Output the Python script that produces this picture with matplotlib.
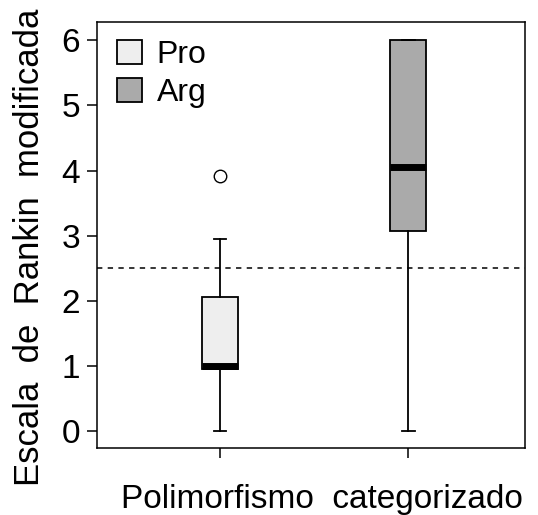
import matplotlib.pyplot as plt
from matplotlib.patches import Patch

plt.rcParams['font.family'] = ['Liberation Sans', 'DejaVu Sans']

# datos (estadisticos del boxplot)
grupos = ['Pro', 'Arg']
colores = ['#eeeeee', '#aaaaaa']
q1 = [0.95, 3.07]
mediana = [1.0, 4.05]
q3 = [2.06, 6.0]
bigote_inf = [0.0, 0.0]
bigote_sup = [2.95, 6.0]
atipicos = [[3.91], []]
umbral = 2.5

stats = []
for i in range(len(grupos)):
    stats.append({'label': grupos[i], 'q1': q1[i], 'med': mediana[i], 'q3': q3[i],
                  'whislo': bigote_inf[i], 'whishi': bigote_sup[i], 'fliers': atipicos[i]})

fig = plt.figure(figsize=(5.38, 5.15), dpi=100)
ax = fig.add_axes([97 / 538, 1 - 448 / 515, 428 / 538, 426 / 515])

bp = ax.bxp(stats, positions=[1, 2], widths=0.19, patch_artist=True,
            boxprops=dict(edgecolor='black', linewidth=1.3),
            medianprops=dict(color='black', linewidth=5, solid_capstyle='butt'),
            whiskerprops=dict(color='black', linewidth=1.3),
            capprops=dict(color='black', linewidth=1.3),
            flierprops=dict(marker='o', markerfacecolor='white', markeredgecolor='black',
                            markersize=9, markeredgewidth=1.0))
for caja, c in zip(bp['boxes'], colores):
    caja.set_facecolor(c)
for cap in bp['caps']:
    x = cap.get_xdata()
    m = (x[0] + x[1]) / 2
    cap.set_xdata([m - 0.033, m + 0.033])

ax.axhline(umbral, color='black', linestyle=(0, (3.5, 3.5)), linewidth=1.1)

ax.set_xlim(0.346, 2.62)
ax.set_ylim(-0.26, 6.28)
ax.set_yticks(range(7))
ax.set_xticks([1, 2])
ax.set_xticklabels(['', ''])
ax.tick_params(axis='both', labelsize=24, length=7, width=1.1, pad=5)
for s in ax.spines.values():
    s.set_linewidth(1.1)

ax.set_ylabel('Escala  de  Rankin  modificada', fontsize=25)
ax.yaxis.set_label_coords(-0.12, 0.47)
ax.set_xlabel('Polimorfismo  categorizado', fontsize=24)
ax.xaxis.set_label_coords(0.526, -0.085)

handles = [Patch(facecolor=c, edgecolor='black', linewidth=1.3, label=g)
           for g, c in zip(grupos, colores)]
ax.legend(handles=handles, loc='upper left', frameon=False, fontsize=23,
          handlelength=0.78, handleheight=0.78, handletextpad=0.45, labelspacing=0.25,
          borderaxespad=0.0, borderpad=0.3, bbox_to_anchor=(0.025, 0.98))

fig.savefig('out.png', dpi=100)
